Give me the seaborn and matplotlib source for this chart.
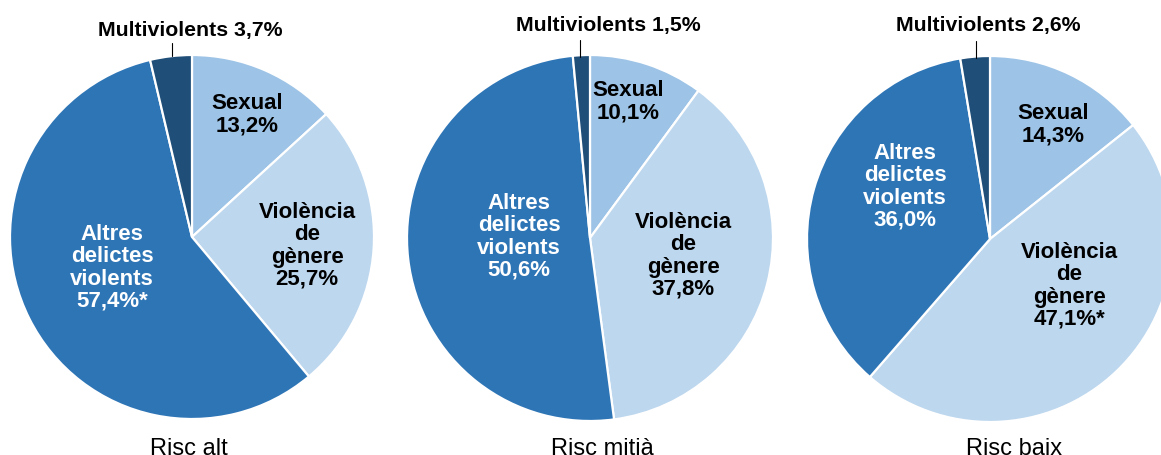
import matplotlib
matplotlib.use("Agg")
import matplotlib.pyplot as plt
import seaborn as sns

sns.set_style("white")
plt.rcParams['font.family'] = ['Liberation Sans', 'DejaVu Sans']

categories = ["Sexual", "Violència\nde\ngènere", "Altres\ndelictes\nviolents", "Multiviolents"]
groups = ["Risc alt", "Risc mitià", "Risc baix"]
risc_alt = [13.2, 25.7, 57.4, 3.7]
risc_mitja = [10.1, 37.8, 50.6, 1.5]
risc_baix = [14.3, 47.1, 36.0, 2.6]
asterisk = [[False, False, True, False], [False, False, False, False], [False, True, False, False]]
series = [risc_alt, risc_mitja, risc_baix]

colors = sns.color_palette(["#9DC3E6", "#BDD7EE", "#2E75B6", "#1F4E79"])
text_colors = ["black", "black", "white", "black"]

W, H = 1161, 456
fig = plt.figure(figsize=(W / 100, H / 100), dpi=100)
ax = fig.add_axes([0, 0, 1, 1])

# layout (pixel coords, y from top)
centers = [(192, 238), (590, 239), (990, 240)]
radius = [182, 183, 183]
label_pos = [
    [(247, 115), (307, 246), (112, 268)],
    [(628, 102), (683, 256), (519, 237)],
    [(1053, 125), (1069, 286), (905, 187)],
]
multi_pos = [(190, 30), (608, 25), (988, 25)]
leader_x = [172, 580, 976]
leader_y = [(44, 57), (41, 58), (42, 59)]
sub_pos = [(189, 455), (602, 455), (1014, 455)]

def fmt(v):
    return f"{v:.1f}".replace(".", ",") + "%"

for i, vals in enumerate(series):
    cx, cy = centers[i]
    ax.pie(vals, center=(cx, H - cy), radius=radius[i], startangle=90,
           counterclock=False, colors=colors, frame=True,
           wedgeprops=dict(edgecolor="white", linewidth=1.6))
    for j in range(3):
        lx, ly = label_pos[i][j]
        txt = categories[j] + "\n" + fmt(vals[j]) + ("*" if asterisk[i][j] else "")
        ax.text(lx, H - ly, txt, ha="center", va="center", fontsize=16,
                fontweight="bold", color=text_colors[j], linespacing=1.08)
    mx, my = multi_pos[i]
    ax.text(mx, H - my, f"{categories[3]} {fmt(vals[3])}", ha="center", va="center",
            fontsize=15.3, fontweight="bold", color="black")
    ax.plot([leader_x[i], leader_x[i]], [H - leader_y[i][0], H - leader_y[i][1]],
            color="black", linewidth=0.8)
    sx, sy = sub_pos[i]
    ax.text(sx, H - sy, groups[i], ha="center", va="baseline", fontsize=17,
            color="black")

ax.set_xlim(0, W)
ax.set_ylim(0, H)
ax.set_aspect("equal")
ax.axis("off")
fig.savefig("out.png", dpi=100)
